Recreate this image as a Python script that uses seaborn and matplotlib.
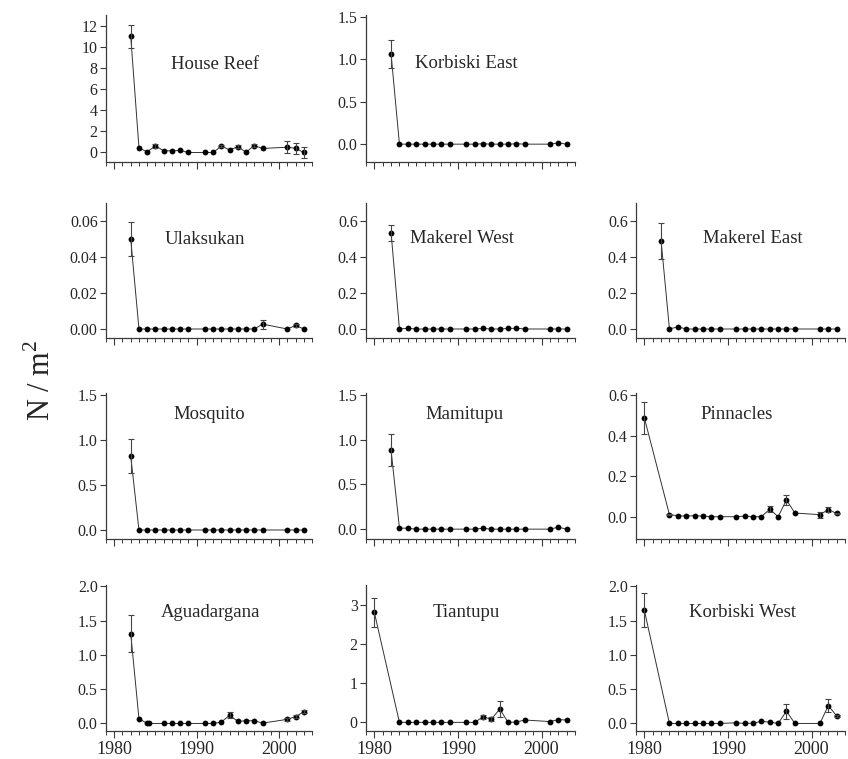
import numpy as np
import pandas as pd
import matplotlib
matplotlib.use("Agg")
import matplotlib.pyplot as plt
from matplotlib.ticker import MultipleLocator, FixedLocator
import seaborn as sns

# ---------------- data ----------------
years_a = [1982, 1983, 1984, 1985, 1986, 1987, 1988, 1989,
           1991, 1992, 1993, 1994, 1995, 1996, 1997, 1998, 2001, 2002, 2003]
years_b = [1980, 1983, 1984, 1985, 1986, 1987, 1988, 1989,
           1991, 1992, 1993, 1994, 1995, 1996, 1997, 1998, 2001, 2002, 2003]
years_c = [1982, 1983, 1984, 1984.25, 1986, 1987, 1988, 1989,
           1991, 1992, 1993, 1994, 1995, 1996, 1997, 1998, 2001, 2002, 2003]

house_reef = [11.0, 0.44, 0.06, 0.63, 0.16, 0.16, 0.19, 0.0, 0.0, 0.0, 0.6, 0.25, 0.54, 0.03, 0.66, 0.38, 0.5, 0.4, 0.0]
house_reef_se = [1.1, 0, 0, 0.2, 0, 0, 0, 0, 0, 0, 0.12, 0, 0.15, 0, 0.18, 0, 0.55, 0.5, 0.55]

korbiski_east = [1.06, 0, 0, 0, 0, 0, 0, 0, 0, 0, 0.005, 0, 0, 0, 0.005, 0, 0, 0.015, 0]
korbiski_east_se = [0.16] + [0] * 18

ulaksukan = [0.05, 0, 0, 0, 0, 0, 0, 0, 0, 0, 0, 0, 0, 0, 0, 0.0027, 0, 0.002, 0]
ulaksukan_se = [0.0092, 0, 0, 0, 0, 0, 0, 0, 0, 0, 0, 0, 0, 0, 0, 0.0025, 0, 0.001, 0]

makerel_west = [0.535, 0, 0.004, 0, 0, 0, 0, 0, 0, 0, 0.003, 0, 0, 0.003, 0.004, 0, 0, 0, 0]
makerel_west_se = [0.045] + [0] * 18

makerel_east = [0.49, 0, 0.012, 0, 0, 0, 0, 0, 0, 0, 0, 0, 0, 0, 0, 0, 0, 0, 0]
makerel_east_se = [0.1] + [0] * 18

mosquito = [0.82] + [0] * 18
mosquito_se = [0.19] + [0] * 18

mamitupu = [0.88, 0.012, 0.01, 0, 0, 0, 0, 0, 0, 0, 0.01, 0, 0, 0, 0, 0, 0, 0.022, 0]
mamitupu_se = [0.18] + [0] * 18

pinnacles = [0.487, 0.01, 0.005, 0.003, 0.005, 0.003, 0, 0, 0, 0.003, 0, 0, 0.037, 0, 0.083, 0.018, 0.01, 0.035, 0.016]
pinnacles_se = [0.08, 0.004, 0, 0, 0, 0, 0, 0, 0, 0, 0, 0, 0.015, 0, 0.025, 0, 0.015, 0.012, 0.004]

aguadargana = [1.31, 0.07, 0.0, 0.0, 0, 0, 0, 0, 0, 0, 0.02, 0.12, 0.03, 0.04, 0.04, 0.005, 0.06, 0.1, 0.17]
aguadargana_se = [0.27, 0, 0, 0, 0, 0, 0, 0, 0, 0, 0, 0.04, 0, 0, 0, 0, 0.02, 0.02, 0.02]

tiantupu = [2.8, 0, 0, 0, 0, 0, 0, 0, 0, 0, 0.14, 0.08, 0.34, 0, 0.01, 0.06, 0.02, 0.07, 0.06]
tiantupu_se = [0.37, 0, 0, 0, 0, 0, 0, 0, 0, 0, 0.05, 0.05, 0.2, 0, 0, 0, 0, 0, 0]

korbiski_west = [1.65, 0, 0, 0, 0, 0, 0, 0, 0.01, 0, 0.005, 0.03, 0.02, 0.0, 0.18, 0.0, 0, 0.26, 0.11]
korbiski_west_se = [0.25, 0, 0, 0, 0, 0, 0, 0, 0, 0, 0, 0, 0, 0, 0.11, 0, 0, 0.09, 0.02]

# name, years, values, se, row, col, ylim, ytick step, title pos
panels = [
    ("House Reef", years_a, house_reef, house_reef_se, 0, 0, (-0.9, 13.0), 2, (0.53, 0.66), "%d"),
    ("Korbiski East", years_a, korbiski_east, korbiski_east_se, 0, 1, (-0.21, 1.52), 0.5, (0.48, 0.67), "%.1f"),
    ("Ulaksukan", years_a, ulaksukan, ulaksukan_se, 1, 0, (-0.005, 0.07), 0.02, (0.48, 0.73), "%.2f"),
    ("Makerel West", years_a, makerel_west, makerel_west_se, 1, 1, (-0.05, 0.7), 0.2, (0.46, 0.74), "%.1f"),
    ("Makerel East", years_a, makerel_east, makerel_east_se, 1, 2, (-0.05, 0.7), 0.2, (0.56, 0.74), "%.1f"),
    ("Mosquito", years_a, mosquito, mosquito_se, 2, 0, (-0.1, 1.52), 0.5, (0.50, 0.85), "%.1f"),
    ("Mamitupu", years_a, mamitupu, mamitupu_se, 2, 1, (-0.11, 1.52), 0.5, (0.47, 0.85), "%.1f"),
    ("Pinnacles", years_b, pinnacles, pinnacles_se, 2, 2, (-0.11, 0.61), 0.2, (0.48, 0.85), "%.1f"),
    ("Aguadargana", years_c, aguadargana, aguadargana_se, 3, 0, (-0.11, 2.02), 0.5, (0.51, 0.81), "%.1f"),
    ("Tiantupu", years_b, tiantupu, tiantupu_se, 3, 1, (-0.22, 3.5), 1, (0.48, 0.81), "%d"),
    ("Korbiski West", years_b, korbiski_west, korbiski_west_se, 3, 2, (-0.11, 2.02), 0.5, (0.51, 0.81), "%.1f"),
]

# ---------------- style ----------------
sns.set_style("ticks")
plt.rcParams["font.family"] = ["Liberation Serif", "DejaVu Serif"]
plt.rcParams["mathtext.fontset"] = "custom"
plt.rcParams["mathtext.rm"] = "Liberation Serif"

W, H = 848, 759
fig = plt.figure(figsize=(W / 100, H / 100), dpi=100)

rows_px = [(15, 162), (203, 338), (393, 539), (585, 731)]
cols_px = [(106, 312), (366, 575), (636, 845)]

spine_col = "#3a3a3a"
for name, yrs, vals, se, r, c, ylim, step, tpos, fmt in panels:
    t, b = rows_px[r]
    l, rr = cols_px[c]
    ax = fig.add_axes([l / W, 1 - b / H, (rr - l) / W, (b - t) / H])
    df = pd.DataFrame({"year": yrs, "density": vals, "se": se})
    sns.lineplot(data=df, x="year", y="density", ax=ax, color="#333333",
                 linewidth=0.7, marker="o", markersize=4.2,
                 markeredgewidth=0, markerfacecolor="black")
    e = df[df["se"] > 0]
    ax.errorbar(e["year"], e["density"], yerr=e["se"], fmt="none",
                ecolor="#444444", elinewidth=0.8, capsize=2.5, capthick=0.8)
    ax.set_xlim(1979, 2004)
    ax.set_ylim(*ylim)
    ax.yaxis.set_major_locator(MultipleLocator(step))
    ax.yaxis.set_major_formatter(matplotlib.ticker.FormatStrFormatter(fmt))
    ax.xaxis.set_major_locator(FixedLocator([1980, 1990, 2000]))
    ax.xaxis.set_minor_locator(MultipleLocator(1))
    ax.set_xlabel("")
    ax.set_ylabel("")
    for s in ("top", "right"):
        ax.spines[s].set_visible(False)
    for s in ("left", "bottom"):
        ax.spines[s].set_color(spine_col)
        ax.spines[s].set_linewidth(0.9)
    ax.tick_params(axis="y", which="major", length=4, width=0.8,
                   color=spine_col, labelsize=11.5, pad=2)
    ax.tick_params(axis="x", which="major", length=5, width=0.8,
                   color=spine_col, labelsize=13, pad=2)
    ax.tick_params(axis="x", which="minor", length=3, width=0.7,
                   color=spine_col)
    if r != 3:
        ax.tick_params(axis="x", which="major", labelbottom=False)
    ax.text(tpos[0], tpos[1], name, transform=ax.transAxes,
            ha="center", va="center", fontsize=13.5)
    ax.set_facecolor("white")

fig.text(42 / W, 1 - 380 / H, r"N / m$^{\mathregular{2}}$", rotation=90,
         ha="center", va="center", fontsize=22)

fig.savefig("out.png", dpi=100, facecolor="white")
